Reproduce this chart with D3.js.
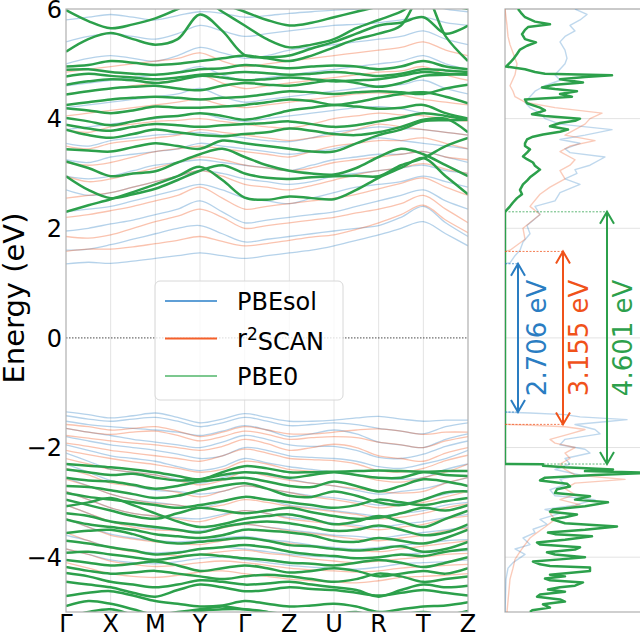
<!DOCTYPE html>
<html><head><meta charset="utf-8">
<script src="https://cdn.jsdelivr.net/npm/d3@7"></script>
<style>html,body{margin:0;padding:0;background:#fff;} svg{display:block;font-family:"DejaVu Sans",sans-serif;}</style>
</head><body><svg id="c" width="640" height="634"></svg>
<script>
// ---------- DATA ----------
const kLabels = ["Γ","X","M","Y","Γ","Z","U","R","T","Z"];
const kTicks = [0,1,2,3,4,5,6,7,8,9];
const kSample = [0,0.5,1,1.5,2,2.5,3,3.5,4,4.5,5,5.5,6,6.5,7,7.5,8,8.5,9];
const yTicks = [-4,-2,0,2,4,6];
const seriesNames = ["PBEsol","r2SCAN","PBE0"];
const gapEdges = [[-1.353,1.353],[-1.5775,1.5775],[-2.3005,2.3005]]; // [VBM, CBM]

const pbesolCond = [
[1.35,1.38,1.36,1.40,1.45,1.50,1.55,1.50,1.45,1.50,1.55,1.60,1.68,1.78,1.88,2.00,2.12,1.90,1.68],
[1.60,1.62,1.70,1.80,1.90,2.00,2.05,1.90,1.75,1.80,1.85,1.90,1.95,2.00,2.05,2.20,2.40,2.10,1.85],
[1.95,2.00,2.08,2.15,2.25,2.35,2.50,2.30,2.10,2.15,2.20,2.25,2.30,2.40,2.50,2.60,2.70,2.50,2.35],
[2.30,2.35,2.40,2.50,2.60,2.70,2.80,2.70,2.55,2.50,2.45,2.55,2.65,2.75,2.80,2.85,2.95,2.85,2.75],
[2.70,2.60,2.65,2.75,2.85,2.95,3.05,3.00,2.90,2.85,2.80,2.85,2.95,3.00,3.05,3.10,3.15,3.05,3.00],
[2.95,2.90,2.95,3.05,3.15,3.20,3.25,3.20,3.15,3.10,3.05,3.15,3.25,3.30,3.35,3.35,3.40,3.30,3.20],
[3.25,3.20,3.30,3.35,3.40,3.45,3.55,3.50,3.45,3.40,3.35,3.40,3.45,3.55,3.65,3.60,3.55,3.50,3.45],
[3.55,3.50,3.60,3.65,3.70,3.72,3.75,3.70,3.65,3.60,3.58,3.65,3.75,3.80,3.85,3.82,3.80,3.75,3.70],
[3.80,3.85,3.90,3.95,4.00,4.05,4.10,4.00,3.95,4.00,4.05,4.10,4.15,4.20,4.22,4.18,4.10,4.05,4.00],
[4.20,4.25,4.30,4.35,4.40,4.45,4.55,4.40,4.30,4.35,4.40,4.45,4.50,4.55,4.60,4.62,4.70,4.55,4.45],
[4.60,4.65,4.70,4.75,4.80,4.85,4.95,4.80,4.70,4.75,4.80,4.85,4.90,4.95,5.00,5.05,5.15,5.00,4.90],
[5.00,5.10,5.15,5.10,5.05,5.15,5.30,5.20,5.10,5.15,5.25,5.30,5.35,5.40,5.45,5.50,5.60,5.45,5.35],
[5.40,5.50,5.55,5.50,5.45,5.55,5.70,5.60,5.50,5.55,5.60,5.65,5.70,5.72,5.75,5.80,5.85,5.75,5.70],
[5.80,5.85,5.90,5.85,5.80,5.88,5.95,5.92,5.85,5.88,5.92,5.95,5.98,6.00,6.02,6.05,6.10,6.00,5.95]
];
const pbesolVal = [
[-1.35,-1.40,-1.46,-1.42,-1.37,-1.45,-1.55,-1.48,-1.38,-1.45,-1.52,-1.52,-1.50,-1.46,-1.43,-1.48,-1.52,-1.50,-1.50],
[-1.42,-1.48,-1.52,-1.48,-1.45,-1.52,-1.62,-1.55,-1.45,-1.52,-1.60,-1.58,-1.55,-1.58,-1.65,-1.70,-1.75,-1.62,-1.55],
[-1.52,-1.58,-1.62,-1.65,-1.68,-1.72,-1.78,-1.70,-1.60,-1.68,-1.80,-1.75,-1.68,-1.75,-1.90,-1.95,-2.00,-1.85,-1.75],
[-1.65,-1.72,-1.78,-1.85,-1.90,-1.95,-2.00,-1.90,-1.78,-1.85,-1.95,-1.98,-1.98,-2.05,-2.18,-2.20,-2.12,-1.98,-1.88],
[-1.80,-1.88,-1.95,-2.00,-2.05,-2.12,-2.20,-2.15,-2.00,-2.05,-2.15,-2.18,-2.20,-2.25,-2.35,-2.38,-2.30,-2.20,-2.05],
[-1.95,-2.05,-2.15,-2.20,-2.25,-2.35,-2.42,-2.35,-2.20,-2.28,-2.35,-2.40,-2.45,-2.50,-2.55,-2.58,-2.55,-2.40,-2.30],
[-2.10,-2.25,-2.40,-2.45,-2.50,-2.58,-2.65,-2.55,-2.45,-2.50,-2.58,-2.65,-2.70,-2.78,-2.85,-2.80,-2.75,-2.65,-2.55],
[-2.30,-2.45,-2.60,-2.70,-2.78,-2.80,-2.85,-2.80,-2.70,-2.75,-2.82,-2.88,-2.92,-2.98,-3.05,-3.02,-2.95,-2.85,-2.78],
[-2.55,-2.70,-2.85,-2.95,-3.00,-3.05,-3.10,-3.00,-2.90,-2.95,-3.05,-3.10,-3.15,-3.20,-3.25,-3.20,-3.15,-3.05,-3.00],
[-2.80,-2.95,-3.10,-3.20,-3.25,-3.28,-3.30,-3.22,-3.15,-3.20,-3.28,-3.32,-3.38,-3.42,-3.45,-3.40,-3.35,-3.28,-3.22],
[-3.05,-3.20,-3.35,-3.42,-3.48,-3.50,-3.52,-3.45,-3.40,-3.45,-3.50,-3.55,-3.60,-3.62,-3.65,-3.60,-3.55,-3.50,-3.45],
[-3.30,-3.45,-3.58,-3.65,-3.70,-3.72,-3.70,-3.65,-3.62,-3.68,-3.72,-3.78,-3.82,-3.85,-3.82,-3.78,-3.75,-3.70,-3.68],
[-3.60,-3.70,-3.82,-3.88,-3.92,-3.90,-3.85,-3.82,-3.85,-3.90,-3.95,-3.98,-4.00,-4.02,-4.00,-3.95,-3.92,-3.90,-3.88],
[-3.85,-3.95,-4.05,-4.10,-4.12,-4.08,-4.02,-4.00,-4.05,-4.10,-4.15,-4.18,-4.20,-4.22,-4.18,-4.12,-4.10,-4.08,-4.05]
];
const r2scanCond = [
[1.58,1.62,1.62,1.66,1.72,1.78,1.85,1.76,1.68,1.72,1.78,1.84,1.88,1.98,2.10,2.25,2.42,2.15,1.92],
[1.85,1.82,1.88,2.00,2.12,2.22,2.35,2.20,2.00,2.05,2.10,2.15,2.20,2.28,2.35,2.45,2.60,2.35,2.10],
[2.20,2.25,2.32,2.40,2.50,2.60,2.75,2.55,2.35,2.40,2.45,2.50,2.55,2.62,2.72,2.82,2.92,2.75,2.60],
[2.55,2.60,2.65,2.75,2.85,2.95,3.05,2.95,2.80,2.75,2.70,2.78,2.88,2.98,3.05,3.10,3.18,3.08,3.00],
[2.95,2.85,2.90,3.00,3.10,3.20,3.30,3.25,3.15,3.10,3.05,3.10,3.20,3.25,3.30,3.35,3.40,3.30,3.25],
[3.20,3.15,3.20,3.30,3.40,3.45,3.50,3.45,3.40,3.35,3.30,3.40,3.50,3.55,3.60,3.60,3.65,3.55,3.45],
[3.50,3.45,3.55,3.60,3.65,3.70,3.80,3.75,3.70,3.65,3.60,3.65,3.70,3.80,3.90,3.85,3.80,3.75,3.70],
[3.80,3.75,3.85,3.90,3.95,3.97,4.00,3.95,3.90,3.85,3.83,3.90,4.00,4.05,4.10,4.07,4.05,4.00,3.95],
[4.05,4.10,4.15,4.20,4.25,4.30,4.35,4.25,4.20,4.25,4.30,4.35,4.40,4.45,4.47,4.43,4.35,4.30,4.25],
[4.45,4.50,4.55,4.60,4.65,4.70,4.80,4.65,4.55,4.60,4.65,4.70,4.75,4.80,4.85,4.87,4.95,4.80,4.70],
[4.85,4.90,4.95,5.00,5.05,5.10,5.20,5.05,4.95,5.00,5.05,5.10,5.15,5.20,5.25,5.30,5.40,5.25,5.15]
];
const r2scanVal = [
[-1.58,-1.62,-1.68,-1.65,-1.62,-1.70,-1.80,-1.72,-1.62,-1.68,-1.75,-1.75,-1.72,-1.68,-1.66,-1.70,-1.76,-1.72,-1.72],
[-1.65,-1.72,-1.76,-1.72,-1.70,-1.78,-1.88,-1.80,-1.70,-1.76,-1.85,-1.82,-1.80,-1.82,-1.90,-1.95,-2.00,-1.88,-1.80],
[-1.78,-1.83,-1.88,-1.92,-1.95,-2.00,-2.05,-1.98,-1.85,-1.93,-2.05,-2.00,-1.94,-2.00,-2.15,-2.20,-2.25,-2.10,-2.00],
[-1.92,-1.98,-2.05,-2.10,-2.15,-2.20,-2.25,-2.15,-2.03,-2.10,-2.20,-2.22,-2.24,-2.30,-2.42,-2.45,-2.38,-2.24,-2.14],
[-2.05,-2.13,-2.20,-2.26,-2.31,-2.38,-2.45,-2.40,-2.25,-2.30,-2.40,-2.43,-2.45,-2.50,-2.60,-2.63,-2.55,-2.45,-2.30],
[-2.20,-2.30,-2.40,-2.45,-2.50,-2.60,-2.68,-2.60,-2.45,-2.52,-2.60,-2.65,-2.70,-2.75,-2.80,-2.83,-2.80,-2.65,-2.55],
[-2.38,-2.50,-2.65,-2.70,-2.75,-2.82,-2.90,-2.80,-2.70,-2.75,-2.82,-2.90,-2.95,-3.02,-3.10,-3.05,-3.00,-2.90,-2.80],
[-2.58,-2.70,-2.85,-2.95,-3.02,-3.05,-3.10,-3.05,-2.95,-3.00,-3.07,-3.12,-3.17,-3.22,-3.30,-3.27,-3.20,-3.10,-3.03],
[-2.80,-2.95,-3.10,-3.20,-3.25,-3.30,-3.35,-3.25,-3.15,-3.20,-3.30,-3.35,-3.40,-3.45,-3.50,-3.45,-3.40,-3.30,-3.25],
[-3.05,-3.20,-3.35,-3.45,-3.50,-3.52,-3.55,-3.47,-3.40,-3.45,-3.52,-3.57,-3.62,-3.67,-3.70,-3.65,-3.60,-3.52,-3.47],
[-3.30,-3.45,-3.60,-3.67,-3.72,-3.75,-3.77,-3.70,-3.65,-3.70,-3.75,-3.80,-3.85,-3.87,-3.90,-3.85,-3.80,-3.75,-3.70],
[-3.55,-3.70,-3.83,-3.90,-3.95,-3.97,-3.95,-3.90,-3.87,-3.93,-3.97,-4.03,-4.07,-4.10,-4.07,-4.03,-4.00,-3.95,-3.93],
[-3.85,-3.95,-4.07,-4.13,-4.17,-4.15,-4.10,-4.07,-4.10,-4.15,-4.20,-4.23,-4.25,-4.27,-4.25,-4.20,-4.17,-4.15,-4.13],
[-4.10,-4.20,-4.30,-4.35,-4.37,-4.33,-4.27,-4.25,-4.30,-4.35,-4.40,-4.43,-4.45,-4.47,-4.43,-4.37,-4.35,-4.33,-4.30]
];
const pbe0Cond = [
[2.30,2.42,2.53,2.66,2.80,2.95,3.12,2.88,2.56,2.52,2.58,2.55,2.53,2.70,2.92,3.10,3.28,2.95,2.62],
[2.95,2.70,2.55,2.62,2.72,2.88,3.05,3.15,3.00,2.92,2.90,2.93,2.95,2.96,2.95,3.15,3.28,3.50,3.65],
[3.22,3.10,2.95,3.00,3.04,3.20,3.35,3.45,3.30,3.15,3.05,3.00,2.98,3.10,3.30,3.45,3.35,3.15,2.95],
[3.44,3.42,3.40,3.48,3.55,3.50,3.45,3.60,3.55,3.50,3.45,3.40,3.40,3.55,3.70,3.80,3.95,3.97,3.98],
[3.80,3.70,3.65,3.72,3.80,3.75,3.70,3.68,3.72,3.75,3.82,3.78,3.72,3.70,3.75,3.85,3.98,4.00,3.75],
[3.89,3.82,3.78,3.85,3.90,3.88,3.85,3.88,3.90,3.92,3.95,3.90,3.85,3.88,3.95,4.02,4.10,4.05,3.98],
[4.01,3.95,3.88,3.95,4.02,4.05,4.10,4.05,3.98,4.05,4.15,4.20,4.25,4.22,4.18,4.20,4.25,4.10,4.00],
[4.19,4.15,4.10,4.15,4.22,4.20,4.20,4.22,4.25,4.30,4.35,4.32,4.25,4.30,4.38,4.45,4.48,4.40,4.28],
[4.25,4.30,4.35,4.38,4.40,4.38,4.35,4.38,4.40,4.45,4.50,4.48,4.45,4.48,4.50,4.48,4.45,4.55,4.62],
[4.44,4.50,4.55,4.58,4.60,4.55,4.52,4.60,4.65,4.62,4.60,4.65,4.70,4.65,4.58,4.65,4.78,4.80,4.82],
[4.62,4.68,4.72,4.70,4.65,4.70,4.78,4.75,4.70,4.72,4.75,4.72,4.68,4.70,4.72,4.78,4.85,4.82,4.80],
[4.77,4.82,4.78,4.75,4.72,4.75,4.80,4.82,4.85,4.83,4.80,4.82,4.85,4.82,4.78,4.82,4.90,4.88,4.85],
[4.89,4.90,4.85,4.82,4.80,4.84,4.90,4.92,4.98,4.95,4.92,4.95,4.97,4.95,4.90,4.95,5.05,4.95,4.90],
[4.95,4.98,5.05,5.02,4.98,5.00,5.05,5.10,5.15,5.10,5.05,5.15,5.30,5.45,5.55,5.70,6.30,5.50,5.05],
[5.22,5.45,5.56,5.45,5.35,5.45,5.90,5.60,5.16,5.12,5.15,5.28,5.40,5.55,5.70,5.75,5.85,5.55,5.70],
[5.98,5.78,5.65,5.72,5.83,6.00,6.20,5.95,5.70,5.45,5.30,5.35,5.45,5.65,5.80,5.95,6.20,6.05,6.10],
[6.20,6.10,6.05,6.10,6.15,6.20,6.30,6.10,5.95,5.80,5.70,5.75,5.85,5.95,6.05,6.20,6.30,6.10,6.00]
];
const pbe0Val = [
[-2.30,-2.33,-2.36,-2.40,-2.45,-2.52,-2.58,-2.45,-2.34,-2.38,-2.45,-2.45,-2.44,-2.43,-2.42,-2.43,-2.44,-2.43,-2.43],
[-2.40,-2.45,-2.50,-2.48,-2.55,-2.60,-2.58,-2.50,-2.45,-2.48,-2.55,-2.50,-2.45,-2.50,-2.55,-2.55,-2.45,-2.50,-2.52],
[-2.55,-2.60,-2.62,-2.68,-2.75,-2.70,-2.62,-2.58,-2.55,-2.62,-2.70,-2.72,-2.62,-2.70,-2.80,-2.70,-2.58,-2.62,-2.70],
[-2.70,-2.72,-2.78,-2.85,-2.92,-2.88,-2.78,-2.70,-2.65,-2.75,-2.88,-2.90,-2.80,-2.88,-3.00,-3.05,-2.95,-2.82,-2.80],
[-2.83,-2.90,-2.95,-3.00,-3.05,-3.10,-3.05,-2.98,-2.90,-2.95,-3.00,-3.05,-3.10,-3.05,-2.95,-3.00,-3.05,-2.98,-2.92],
[-2.95,-3.05,-3.15,-3.25,-3.30,-3.20,-3.10,-3.15,-3.20,-3.15,-3.10,-3.18,-3.25,-3.30,-3.28,-3.20,-3.10,-3.15,-3.05],
[-3.07,-3.00,-2.92,-3.05,-3.20,-3.35,-3.45,-3.40,-3.30,-3.25,-3.22,-3.30,-3.40,-3.35,-3.25,-3.35,-3.45,-3.30,-3.15],
[-3.20,-3.25,-3.35,-3.40,-3.45,-3.50,-3.55,-3.45,-3.38,-3.35,-3.38,-3.45,-3.52,-3.50,-3.42,-3.50,-3.60,-3.55,-3.40],
[-3.31,-3.40,-3.45,-3.50,-3.58,-3.62,-3.65,-3.60,-3.50,-3.52,-3.55,-3.60,-3.70,-3.72,-3.65,-3.70,-3.75,-3.65,-3.50],
[-3.56,-3.52,-3.50,-3.58,-3.70,-3.75,-3.72,-3.68,-3.65,-3.70,-3.78,-3.80,-3.85,-3.88,-3.85,-3.80,-3.90,-3.85,-3.72],
[-3.70,-3.75,-3.82,-3.88,-3.95,-3.92,-3.85,-3.82,-3.78,-3.82,-3.90,-3.95,-3.98,-4.02,-4.00,-3.95,-3.98,-3.90,-3.85],
[-3.92,-3.90,-3.95,-4.00,-4.05,-4.00,-3.95,-3.98,-4.02,-4.05,-4.10,-4.12,-4.15,-4.10,-4.05,-4.10,-4.18,-4.10,-4.00],
[-4.05,-4.10,-4.15,-4.12,-4.08,-4.15,-4.25,-4.20,-4.15,-4.20,-4.28,-4.25,-4.20,-4.25,-4.35,-4.30,-4.25,-4.30,-4.20],
[-4.18,-4.25,-4.30,-4.28,-4.25,-4.30,-4.35,-4.40,-4.35,-4.32,-4.35,-4.40,-4.45,-4.40,-4.30,-4.35,-4.45,-4.40,-4.35],
[-4.29,-4.35,-4.45,-4.50,-4.55,-4.50,-4.42,-4.45,-4.50,-4.48,-4.45,-4.50,-4.55,-4.60,-4.72,-4.60,-4.50,-4.55,-4.52],
[-4.45,-4.50,-4.55,-4.65,-4.72,-4.60,-4.50,-4.55,-4.62,-4.60,-4.55,-4.58,-4.60,-4.65,-4.70,-4.65,-4.60,-4.65,-4.70],
[-4.71,-4.65,-4.62,-4.70,-4.80,-4.85,-4.90,-4.88,-4.80,-4.85,-4.90,-4.88,-4.85,-4.90,-5.00,-4.95,-4.90,-4.88,-4.82],
[-4.89,-4.80,-4.85,-4.95,-5.05,-5.00,-4.95,-4.90,-4.95,-5.00,-5.05,-5.10,-5.05,-5.00,-5.10,-5.05,-5.00,-5.05,-4.98],
[-5.10,-5.00,-4.95,-5.05,-5.15,-5.10,-4.98,-4.95,-4.95,-5.00,-5.10,-5.15,-5.10,-5.15,-5.20,-5.10,-5.05,-5.10,-5.15]
];

const pbesolDos = [[-5.0,0],[-4.4,0.01],[-4.2,0.03],[-4.1,0.08],[-3.95,0.20],[-3.85,0.10],[-3.77,0.25],[-3.65,0.18],[-3.55,0.30],[-3.49,0.28],[-3.4,0.42],[-3.31,0.35],[-3.2,0.55],[-3.13,0.40],[-3.05,0.70],[-2.95,0.90],[-2.88,0.50],[-2.77,0.45],[-2.68,0.60],[-2.58,0.55],[-2.5,0.75],[-2.4,0.50],[-2.3,0.65],[-2.2,0.60],[-2.1,0.85],[-2.03,0.80],[-1.95,0.55],[-1.85,0.60],[-1.75,0.95],[-1.67,0.90],[-1.58,0.70],[-1.52,1.05],[-1.49,1.22],[-1.44,0.75],[-1.4,0.60],[-1.37,0.25],[-1.353,0],[1.353,0],[1.37,0.05],[1.5,0.10],[1.6,0.15],[1.75,0.18],[1.9,0.25],[2.05,0.22],[2.25,0.35],[2.4,0.30],[2.5,0.50],[2.65,0.55],[2.8,0.75],[2.9,0.60],[3.0,0.72],[3.07,0.70],[3.15,0.85],[3.3,1.00],[3.38,0.65],[3.45,0.60],[3.55,0.75],[3.62,0.55],[3.7,0.80],[3.8,1.07],[3.9,0.55],[4.0,0.40],[4.1,0.35],[4.2,0.25],[4.3,0.20],[4.4,0.25],[4.5,0.30],[4.6,0.40],[4.7,0.55],[4.8,0.50],[4.9,0.55],[5.0,0.60],[5.1,0.62],[5.25,0.60],[5.4,0.55],[5.5,0.60],[5.6,0.70],[5.7,0.65],[5.8,0.75],[5.9,0.82],[6.0,0.70]];
const r2scanDos = [[-5.0,0.02],[-4.6,0.04],[-4.4,0.05],[-4.2,0.08],[-4.04,0.10],[-3.9,0.15],[-3.77,0.20],[-3.65,0.25],[-3.58,0.30],[-3.45,0.40],[-3.31,0.50],[-3.2,0.45],[-3.1,0.60],[-3.04,0.75],[-2.95,0.55],[-2.86,0.70],[-2.75,0.60],[-2.65,0.70],[-2.58,1.20],[-2.5,0.70],[-2.4,0.60],[-2.3,0.55],[-2.2,0.65],[-2.1,0.60],[-2.0,0.70],[-1.92,0.50],[-1.85,0.45],[-1.75,0.65],[-1.67,0.80],[-1.62,0.60],[-1.59,0.20],[-1.5775,0],[1.5775,0],[1.6,0.05],[1.8,0.20],[2.0,0.18],[2.25,0.35],[2.4,0.25],[2.62,0.35],[2.75,0.45],[2.9,0.60],[3.05,0.55],[3.15,0.65],[3.25,0.70],[3.4,0.55],[3.5,0.65],[3.6,0.90],[3.7,0.60],[3.8,0.70],[3.9,0.80],[4.0,0.85],[4.1,0.97],[4.2,0.50],[4.3,0.20],[4.4,0.10],[4.5,0.08],[4.6,0.05],[4.8,0.10],[5.0,0.12],[5.2,0.08],[5.35,0.05],[5.5,0.03],[5.7,0.02],[6.0,0.0]];
const pbe0Dos = [[-5.0,0.25],[-4.97,0.27],[-4.92,0.45],[-4.86,0.38],[-4.81,0.60],[-4.77,0.55],[-4.72,0.32],[-4.68,0.35],[-4.63,0.60],[-4.59,0.43],[-4.55,0.55],[-4.52,0.70],[-4.46,0.78],[-4.42,0.45],[-4.39,0.40],[-4.35,0.60],[-4.32,0.45],[-4.25,0.85],[-4.19,0.85],[-4.16,0.45],[-4.13,0.35],[-4.08,0.28],[-4.04,0.55],[-4.0,0.80],[-3.95,0.50],[-3.91,0.42],[-3.86,0.70],[-3.82,0.75],[-3.77,0.35],[-3.73,0.32],[-3.68,0.60],[-3.62,0.87],[-3.58,0.50],[-3.55,0.43],[-3.5,0.80],[-3.44,1.12],[-3.38,0.60],[-3.31,0.47],[-3.27,0.60],[-3.22,0.72],[-3.17,0.45],[-3.13,0.48],[-3.07,0.80],[-3.0,1.03],[-2.95,0.70],[-2.89,0.85],[-2.83,0.50],[-2.76,0.52],[-2.71,0.65],[-2.66,0.62],[-2.60,0.35],[-2.55,0.40],[-2.50,0.90],[-2.46,1.45],[-2.43,0.80],[-2.40,1.08],[-2.36,0.60],[-2.33,0.38],[-2.305,0.38],[-2.30,0],[2.30,0],[2.34,0.02],[2.40,0.05],[2.47,0.08],[2.55,0.12],[2.62,0.17],[2.70,0.15],[2.80,0.18],[2.87,0.22],[2.93,0.25],[3.0,0.30],[3.07,0.35],[3.14,0.30],[3.2,0.28],[3.26,0.22],[3.31,0.18],[3.38,0.22],[3.44,0.25],[3.50,0.20],[3.55,0.20],[3.62,0.22],[3.67,0.28],[3.71,0.38],[3.76,0.55],[3.80,0.63],[3.86,0.45],[3.92,0.55],[3.96,0.70],[4.0,0.75],[4.05,0.40],[4.08,0.27],[4.12,0.35],[4.15,0.40],[4.2,0.35],[4.28,0.22],[4.35,0.20],[4.4,0.67],[4.45,0.55],[4.5,0.72],[4.54,0.50],[4.57,0.37],[4.62,0.50],[4.66,0.78],[4.72,0.55],[4.76,0.80],[4.79,1.07],[4.82,0.40],[4.85,0.30],[4.9,0.20],[4.95,0.01],[5.02,0.05],[5.08,0.08],[5.18,0.12],[5.26,0.15],[5.33,0.22],[5.39,0.31],[5.45,0.20],[5.54,0.17],[5.62,0.20],[5.67,0.23],[5.72,0.45],[5.77,0.30],[5.85,0.20],[5.93,0.16],[6.0,0.13]];

// ---------- STYLE / LAYOUT ----------
const COL = {PBEsol:"#2a7dc2", r2SCAN:"#f0521a", PBE0:"#2ca04b"};
const band = {x0:66, x1:468, y0:9, y1:612};
const dosBox = {x0:505, x1:645};
const svg = d3.select("#c");

const y = d3.scaleLinear().domain([-5,6]).range([band.y1, band.y0]);
const x = d3.scaleLinear().domain([0,9]).range([band.x0, band.x1]);
const xd = d3.scaleLinear().domain([0,1.4]).range([dosBox.x0, dosBox.x1]);

const defs = svg.append("defs");
defs.append("clipPath").attr("id","clipB").append("rect")
  .attr("x",band.x0).attr("y",band.y0).attr("width",band.x1-band.x0).attr("height",band.y1-band.y0);
defs.append("clipPath").attr("id","clipD").append("rect")
  .attr("x",dosBox.x0).attr("y",band.y0).attr("width",dosBox.x1-dosBox.x0).attr("height",band.y1-band.y0);

// ---- band panel ----
const gB = svg.append("g");
gB.selectAll("line.vg").data(kTicks.slice(1,-1)).join("line")
  .attr("x1",d=>x(d)).attr("x2",d=>x(d)).attr("y1",band.y0).attr("y2",band.y1)
  .attr("stroke","#e3e3e3").attr("stroke-width",1);

const line = d3.line().x((d,i)=>x(kSample[i])).y(d=>y(d)).curve(d3.curveCatmullRom.alpha(0.5));
const gc = gB.append("g").attr("clip-path","url(#clipB)");
function drawBands(arr, color, w, op){
  gc.append("g").selectAll("path").data(arr).join("path")
    .attr("d", line).attr("fill","none").attr("stroke",color)
    .attr("stroke-width",w).attr("stroke-opacity",op);
}
drawBands(pbesolCond.concat(pbesolVal), COL.PBEsol, 1.3, 0.35);
drawBands(r2scanCond.concat(r2scanVal), COL.r2SCAN, 1.3, 0.35);
drawBands(pbe0Cond.concat(pbe0Val), COL.PBE0, 2.5, 1);

gB.append("line").attr("x1",band.x0).attr("x2",band.x1).attr("y1",y(0)).attr("y2",y(0))
  .attr("stroke","#333").attr("stroke-width",0.9).attr("stroke-dasharray","1.5,1.5");

gB.append("rect").attr("x",band.x0).attr("y",band.y0).attr("width",band.x1-band.x0).attr("height",band.y1-band.y0)
  .attr("fill","none").attr("stroke","#b0b0b0").attr("stroke-width",1.2);

// ticks
gB.selectAll("text.yt").data(yTicks).join("text")
  .attr("x",62).attr("y",d=>y(d)).attr("dy","0.36em").attr("text-anchor","end")
  .attr("font-size",24).attr("fill","#000").text(d=>d<0?"\u2212"+Math.abs(d):d);
gB.selectAll("text.xt").data(kTicks).join("text")
  .attr("x",d=>x(d)).attr("y",632).attr("text-anchor","middle")
  .attr("font-size",24).attr("fill","#000").text((d,i)=>kLabels[i]);
svg.append("text").attr("transform","translate(24,298) rotate(-90)").attr("text-anchor","middle")
  .attr("font-size",29).attr("fill","#000").text("Energy (eV)");

// legend
const lg = svg.append("g");
lg.append("rect").attr("x",155).attr("y",281).attr("width",188).attr("height",119).attr("rx",5)
  .attr("fill","#fff").attr("fill-opacity",0.8).attr("stroke","#d8d8d8");
const legCols = ["#5f9fd6","#f5602a","#7cc88f"];
seriesNames.forEach((s,i)=>{
  const yy = 301 + i*37.5;
  lg.append("line").attr("x1",165).attr("x2",217).attr("y1",yy).attr("y2",yy)
    .attr("stroke",legCols[i]).attr("stroke-width",2);
  const t = lg.append("text").attr("x",237).attr("y",yy).attr("dy","0.36em").attr("font-size",24).attr("fill","#000");
  if(s==="r2SCAN"){
    t.append("tspan").text("r");
    t.append("tspan").attr("dy","-0.42em").attr("font-size",17).text("2");
    t.append("tspan").attr("dy","0.42em").text("SCAN");
  } else t.text(s);
});

// ---- DOS panel ----
const gD = svg.append("g");
gD.selectAll("line.hg").data(yTicks).join("line")
  .attr("x1",dosBox.x0).attr("x2",dosBox.x1).attr("y1",d=>y(d)).attr("y2",d=>y(d))
  .attr("stroke","#e3e3e3").attr("stroke-width",1);
gD.append("rect").attr("x",dosBox.x0).attr("y",band.y0).attr("width",dosBox.x1-dosBox.x0).attr("height",band.y1-band.y0)
  .attr("fill","none").attr("stroke","#b0b0b0").attr("stroke-width",1.2);
const dline = d3.line().x(d=>xd(d[1])).y(d=>y(d[0]));
const gdc = gD.append("g").attr("clip-path","url(#clipD)");
[[pbesolDos,COL.PBEsol,1.4,0.3],[r2scanDos,COL.r2SCAN,1.4,0.3],[pbe0Dos,COL.PBE0,2.5,1]].forEach(([d,c,w,o])=>{
  gdc.append("path").datum(d).attr("d",dline).attr("fill","none").attr("stroke",c)
    .attr("stroke-width",w).attr("stroke-opacity",o).attr("stroke-linejoin","round");
});

// gap annotations
const arrowX = [0.13, 0.58, 1.02];
const labelX = [0.405, 0.83, 1.27];
seriesNames.forEach((s,i)=>{
  const [vbm,cbm] = gapEdges[i], c = COL[s], ax = xd(arrowX[i]);
  [vbm,cbm].forEach(e=>{
    gD.append("line").attr("x1",xd(0)).attr("x2",ax).attr("y1",y(e)).attr("y2",y(e))
      .attr("stroke",c).attr("stroke-width",1).attr("stroke-opacity",0.75).attr("stroke-dasharray","2,1.5");
  });
  gD.append("line").attr("x1",ax).attr("x2",ax).attr("y1",y(cbm)).attr("y2",y(vbm))
    .attr("stroke",c).attr("stroke-width",2);
  const hl=12, hw=7;
  gD.append("path").attr("d",`M${ax-hw},${y(cbm)+hl}L${ax},${y(cbm)}L${ax+hw},${y(cbm)+hl}`)
    .attr("fill","none").attr("stroke",c).attr("stroke-width",2);
  gD.append("path").attr("d",`M${ax-hw},${y(vbm)-hl}L${ax},${y(vbm)}L${ax+hw},${y(vbm)-hl}`)
    .attr("fill","none").attr("stroke",c).attr("stroke-width",2);
  gD.append("text").attr("transform",`translate(${xd(labelX[i])},${y((vbm+cbm)/2)}) rotate(-90)`)
    .attr("text-anchor","middle").attr("font-size",26).attr("fill",c)
    .text((cbm-vbm).toFixed(3)+" eV");
});
</script></body></html>
